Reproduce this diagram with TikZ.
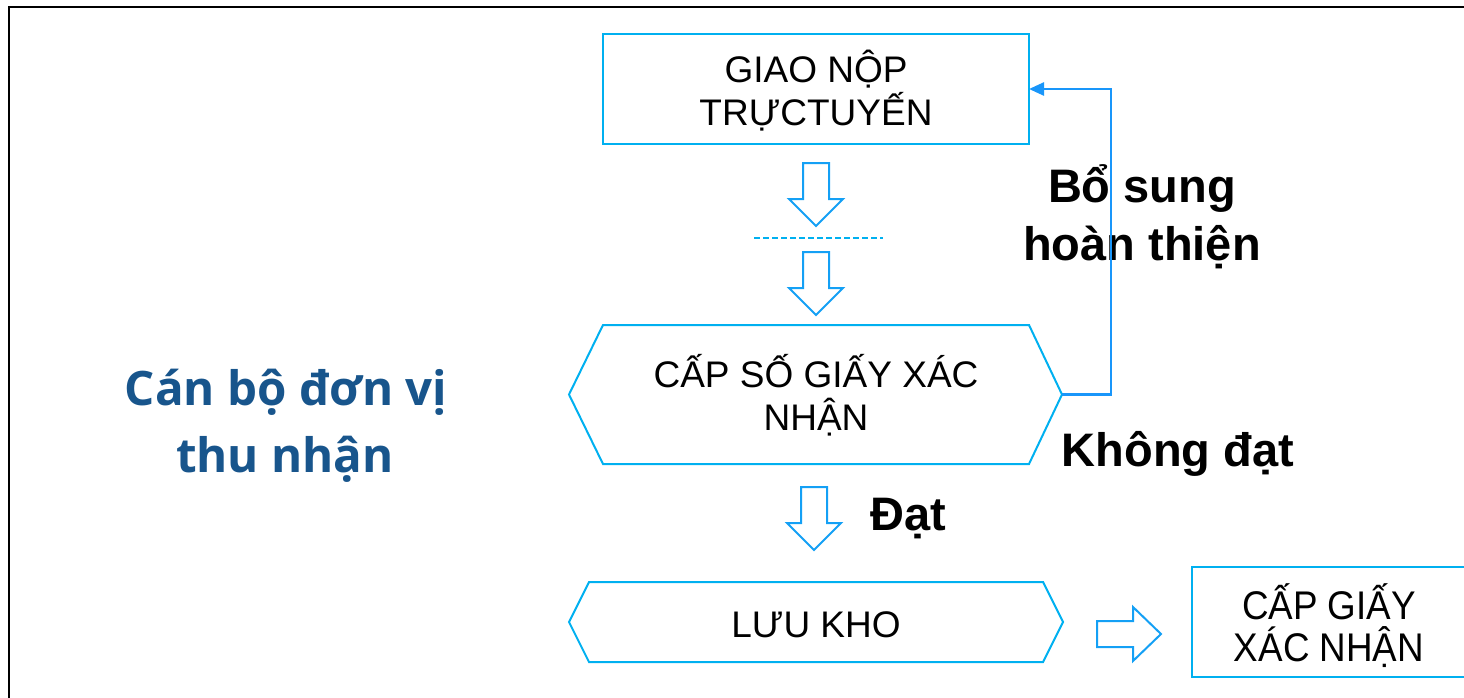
\documentclass[tikz,border=0pt]{standalone}
\usepackage{fontspec}
\setmainfont{Liberation Sans}
\newfontfamily\osans{Open Sans}
\usetikzlibrary{arrows.meta}
\definecolor{boxblue}{RGB}{0,176,240}
\definecolor{arrblue}{RGB}{20,160,245}
\definecolor{fbblue}{RGB}{25,150,250}
\definecolor{titleblue}{RGB}{24,85,140}
\begin{document}
\begin{tikzpicture}[x=1pt,y=-1pt,
  frame/.style={draw=boxblue,line width=2pt,inner sep=0pt,outer sep=0pt},
  ghost/.style={draw=none,inner sep=0pt,outer sep=0pt},
  hexline/.style={draw=boxblue,line width=2pt,line join=miter},
  txt/.style={anchor=base,inner sep=0pt,font=\fontsize{37}{42}\selectfont},
  btxt/.style={anchor=base,inner sep=0pt,font=\fontsize{47}{56}\selectfont\bfseries},
  ttl/.style={anchor=base,inner sep=0pt,text=titleblue,font=\osans\fontsize{47.5}{66}\selectfont\bfseries},
  blk/.style={draw=arrblue,line width=2pt,line join=miter,fill=white},
  downblk/.pic={\draw[blk] (-13,0) -- (13,0) -- (13,36) -- (27,36) -- (0,63) -- (-27,36) -- (-13,36) -- cycle;},
  rightblk/.pic={\draw[blk] (0,-13) -- (36,-13) -- (36,-27) -- (64,0) -- (36,27) -- (36,13) -- (0,13) -- cycle;},
  fb/.style={draw=fbblue,line width=2.5pt,-{Triangle[length=15pt,width=13pt]}}
]
\useasboundingbox (0,0) rectangle (1464,698);
% outer frame
\draw[line width=2.6pt] (9,7) rectangle (1480,715);

% boxes
\node[frame,minimum width=426pt,minimum height=110pt] (giao) at (816,89) {};
\node[ghost,minimum width=426pt,minimum height=139pt] (cap) at (816,394.5) {};
\draw[hexline] (cap.north west) -- (cap.north east) -- ([xshift=33pt]cap.east) -- (cap.south east) -- (cap.south west) -- ([xshift=-34pt]cap.west) -- cycle;
\node[ghost,minimum width=454pt,minimum height=80pt] (luu) at (816,622) {};
\draw[hexline] (luu.north west) -- (luu.north east) -- ([xshift=20pt]luu.east) -- (luu.south east) -- (luu.south west) -- ([xshift=-20pt]luu.west) -- cycle;
\node[frame,minimum width=274pt,minimum height=110pt] (giay) at (1329,622) {};

% texts
\node[txt] (g1) at (816,83) {GIAO NỘP};
\node[txt] (g2) at (816,125) {TRỰCTUYẾN};
\node[txt] (c1) at (816,387) {CẤP SỐ GIẤY XÁC};
\node[txt] (c2) at (816,430) {NHẬN};
\node[txt] (l1) at (816,637) {LƯU KHO};
\node[txt] (x1) at (1329,619) {\scalebox{0.92}[1]{\fontsize{40}{44}\selectfont CẤP GIẤY}};
\node[txt] (x2) at (1329,661) {\scalebox{0.92}[1]{\fontsize{40}{44}\selectfont XÁC NHẬN}};

\node[btxt] (b1) at (1142,202) {Bổ sung};
\node[btxt] (b2) at (1142,260) {hoàn thiện};
\node[btxt] (k1) at (1178,466) {Không đạt};
\node[btxt] (d1) at (908,530) {Đạt};

\node[ttl] (t1) at (286,405) {Cán bộ đơn vị};
\node[ttl] (t2) at (285,472) {thu nhận};

% block arrows
\pic at (816,163) {downblk};
\draw[draw=boxblue,line width=2.2pt,dash pattern=on 6pt off 3pt] (754,238) -- (883,238);
\pic at (816,252) {downblk};
\pic at (814,487) {downblk};
\pic at (1097,634) {rightblk};

% feedback
\coordinate (capR) at ([xshift=33pt]cap.east);
\draw[fb] (capR) -- ++(49,0) |- (giao.east);
\end{tikzpicture}
\end{document}
